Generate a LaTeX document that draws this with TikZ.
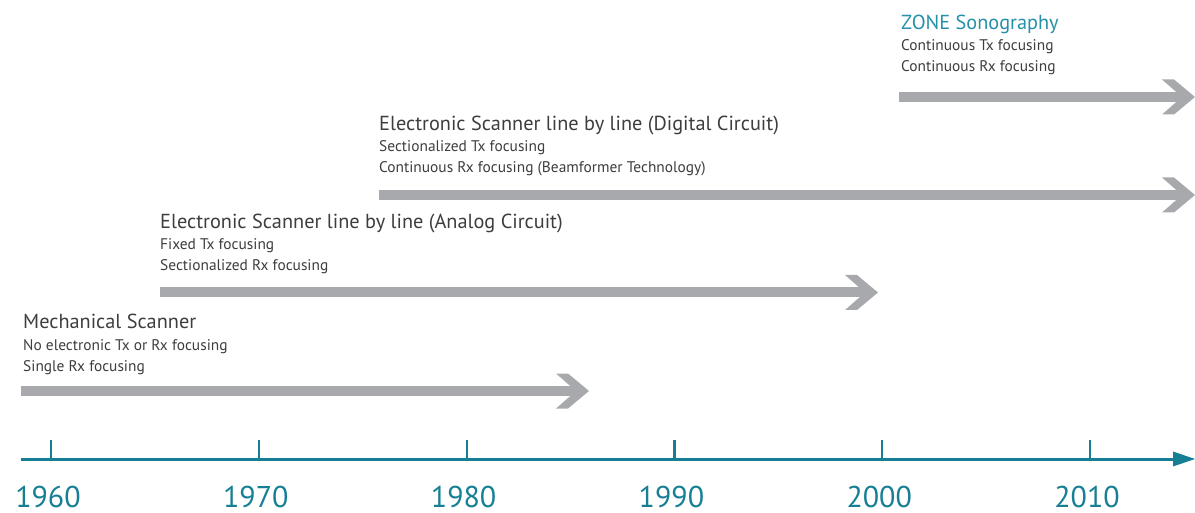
\documentclass[tikz,border=0pt]{standalone}
\usepackage{fontspec}
\setmainfont{PT Sans}
\definecolor{bargray}{HTML}{A7A9AC}
\definecolor{axisteal}{HTML}{167F96}
\definecolor{zoneteal}{HTML}{2590A8}
\definecolor{txtgray}{HTML}{3D3D3D}
\tikzset{
  title/.style={anchor=base west, inner sep=0pt, text=txtgray, font=\fontsize{20.3}{24}\selectfont},
  ztitle/.style={title, text=zoneteal},
  sub/.style={anchor=base west, inner sep=0pt, text=txtgray, font=\fontsize{15.4}{17}\selectfont},
  year/.style={anchor=base, inner sep=0pt, text=axisteal, font=\fontsize{30}{33}\selectfont},
  tick/.style={draw=axisteal, line width=2.2pt},
  axis/.style={draw=axisteal, line width=3pt},
}
\newcommand{\grayarrow}[4]{% name, xstart, xtip, ycenter
  \coordinate (#1s) at (#2,#4);
  \coordinate (#1t) at (#3,#4);
  \fill[bargray] (#2,#4-5) rectangle (#3-12,#4+5);
  \fill[bargray] (#3-33,#4-17.5) -- (#3-21,#4-17.5) -- (#3,#4) -- (#3-21,#4+17.5) -- (#3-33,#4+17.5) -- (#3-13,#4) -- cycle;
}
\begin{document}
\begin{tikzpicture}[x=1pt,y=-1pt]
\useasboundingbox (0,0) rectangle (1195,513);
% gray arrows
\grayarrow{a1}{21}{589}{391}
\grayarrow{a2}{160}{878}{292.5}
\grayarrow{a3}{379}{1195}{195}
\grayarrow{a4}{899}{1195}{97}
% texts
\node[title] (t1) at (23,329) {Mechanical Scanner};
\node[sub] (t1a) at (23,350) {No electronic Tx or Rx focusing};
\node[sub] (t1b) at (23,371) {Single Rx focusing};
\node[title] (t2) at (160,229) {Electronic Scanner line by line (Analog Circuit)};
\node[sub] (t2a) at (160,250) {Fixed Tx focusing};
\node[sub] (t2b) at (160,271) {Sectionalized Rx focusing};
\node[title] (t3) at (379,131) {Electronic Scanner line by line (Digital Circuit)};
\node[sub] (t3a) at (379,152) {Sectionalized Tx focusing};
\node[sub] (t3b) at (379,173) {Continuous Rx focusing (Beamformer Technology)};
\node[ztitle] (t4) at (901,30) {ZONE Sonography};
\node[sub] (t4a) at (901,51) {Continuous Tx focusing};
\node[sub] (t4b) at (901,72) {Continuous Rx focusing};
% axis
\coordinate (ax0) at (21,459);
\coordinate (ax1) at (1175,459);
\draw[axis] (ax0) -- (ax1);
\fill[axisteal] (1173,451.5) -- (1195,459) -- (1173,466.5) -- cycle;
\foreach \i/\yr in {0/1960,1/1970,2/1980,3/1990,4/2000,5/2010}{
  \draw[tick] (51+207.8*\i,440) -- (51+207.8*\i,459);
  \node[year] (y\yr) at (48+207.8*\i,507) {\yr};
}
\end{tikzpicture}
\end{document}
